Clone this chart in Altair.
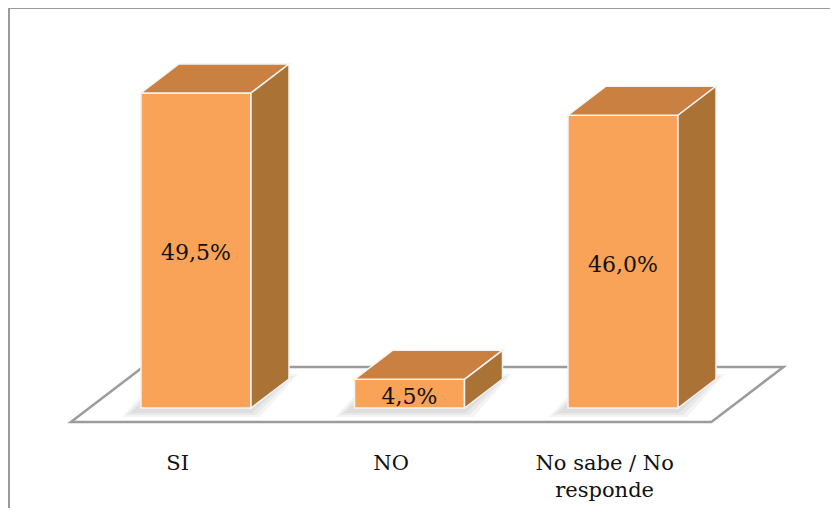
import altair as alt
import pandas as pd

# ---- data ----
categories = ["SI", "NO", "No sabe / No\nresponde"]
values = [49.5, 4.5, 46.0]
value_labels = ["49,5%", "4,5%", "46,0%"]

# ---- layout (pseudo-3D projection) ----
W, H = 822, 500
PX_X = 213.5          # px per category step
PX_Y = 6.364          # px per percentage point
X0_PX, Y0_PX = 188, 400   # position of category 0 / value 0 in the plot
BAR_W = 110 / PX_X
DX = 38 / PX_X        # x shift per unit depth
DY = 29 / PX_Y        # y shift per unit depth
FLOOR_FRONT, FLOOR_BACK = -0.483, 1.414
LABEL_Y = -9.8        # baseline of category labels (value units)

FRONT_C = "#F8A357"
TOP_C = "#C98041"
SIDE_C = "#AA7335"
EDGE_C = "#F4F4F4"
FONT = "DejaVu Serif"

xscale = alt.Scale(domain=[-X0_PX / PX_X, (W - X0_PX) / PX_X], nice=False, zero=False)
yscale = alt.Scale(domain=[(Y0_PX - H) / PX_Y, Y0_PX / PX_Y], nice=False, zero=False)

n = len(categories)
fronts = pd.DataFrame({
    "cat": categories,
    "i": list(range(n)),
    "v": values,
    "label": value_labels,
})
fronts["x0"] = fronts["i"] - BAR_W / 2
fronts["x1"] = fronts["i"] + BAR_W / 2
fronts["vm"] = fronts["v"] / 2
fronts["lx"] = fronts["i"] + FLOOR_FRONT * DX
fronts["ly"] = LABEL_Y

top_rows, side_rows, shadow_rows = [], [], []
for rec in fronts.to_dict("records"):
    c, v, x0, x1 = rec["cat"], rec["v"], rec["x0"], rec["x1"]
    top_rows.append({"cat": c, "y": v, "xa": x0, "xb": x1})
    top_rows.append({"cat": c, "y": v + DY, "xa": x0 + DX, "xb": x1 + DX})
    side_rows.append({"cat": c, "x": x1, "ya": 0.0, "yb": v})
    side_rows.append({"cat": c, "x": x1 + DX, "ya": DY, "yb": v + DY})
    for k, e in enumerate([14, 10, 6]):
        ex, ey = e / PX_X, e / PX_Y
        sx, sy = -5 / PX_X, -2 / PX_Y
        key = f"{c}-{k}"
        for d, extra in [(0, -ey * 0.5), (1, ey * 0.5)]:
            shadow_rows.append({
                "key": key,
                "y": d * DY + extra + sy,
                "xa": x0 + d * DX - ex + sx,
                "xb": x1 + d * DX + ex + sx,
            })
tops = pd.DataFrame(top_rows)
sides = pd.DataFrame(side_rows)
shadows = pd.DataFrame(shadow_rows)

floor = pd.DataFrame({
    "y": [FLOOR_FRONT * DY, FLOOR_BACK * DY],
    "xa": [-0.5 + FLOOR_FRONT * DX, -0.5 + FLOOR_BACK * DX],
    "xb": [n - 0.5 + FLOOR_FRONT * DX, n - 0.5 + FLOOR_BACK * DX],
})

floor_layer = alt.Chart(floor).mark_area(
    orient="horizontal", fill="white", stroke="#9C9C9C", strokeWidth=2.5
).encode(
    y=alt.Y("y:Q", scale=yscale, axis=None),
    x=alt.X("xa:Q", scale=xscale, axis=None),
    x2="xb:Q",
)

shadow_layer = alt.Chart(shadows).mark_area(
    orient="horizontal", fill="#000000", fillOpacity=0.045
).encode(
    y=alt.Y("y:Q", scale=yscale, axis=None),
    x=alt.X("xa:Q", scale=xscale, axis=None),
    x2="xb:Q",
    detail="key:N",
)

front_layer = alt.Chart(fronts).mark_rect(
    fill=FRONT_C, stroke=EDGE_C, strokeWidth=1.5
).encode(
    x=alt.X("x0:Q", scale=xscale, axis=None),
    x2="x1:Q",
    y=alt.Y("v:Q", scale=yscale, axis=None),
    y2=alt.datum(0),
)

top_layer = alt.Chart(tops).mark_area(
    orient="horizontal", fill=TOP_C, stroke=EDGE_C, strokeWidth=1.5
).encode(
    y=alt.Y("y:Q", scale=yscale, axis=None),
    x=alt.X("xa:Q", scale=xscale, axis=None),
    x2="xb:Q",
    detail="cat:N",
)

side_layer = alt.Chart(sides).mark_area(
    orient="vertical", fill=SIDE_C, stroke=EDGE_C, strokeWidth=1.5
).encode(
    x=alt.X("x:Q", scale=xscale, axis=None),
    y=alt.Y("ya:Q", scale=yscale, axis=None),
    y2="yb:Q",
    detail="cat:N",
)

value_text = alt.Chart(fronts).mark_text(
    font=FONT, fontSize=22, color="#111111", baseline="middle", dy=3
).encode(
    x=alt.X("i:Q", scale=xscale, axis=None),
    y=alt.Y("vm:Q", scale=yscale, axis=None),
    text="label:N",
)

cat_text = alt.Chart(fronts).mark_text(
    font=FONT, fontSize=21, color="#111111", baseline="alphabetic",
    lineBreak="\n", lineHeight=27
).encode(
    x=alt.X("lx:Q", scale=xscale, axis=None),
    y=alt.Y("ly:Q", scale=yscale, axis=None),
    text="cat:N",
)

# outer frame: only its left and top edges are inside the picture
frame_left = alt.Chart(fronts).mark_rule(color="#9A9A9A", strokeWidth=2.5).encode(
    x=alt.value(0.5), y=alt.value(-1), y2=alt.value(H)
)
frame_top = alt.Chart(fronts).mark_rule(color="#9A9A9A", strokeWidth=2.5).encode(
    x=alt.value(0), x2=alt.value(W), y=alt.value(-0.5)
)

chart = alt.layer(
    floor_layer, shadow_layer, front_layer, top_layer, side_layer,
    value_text, cat_text, frame_left, frame_top
).properties(
    width=W, height=H, autosize=alt.AutoSizeParams(type="none"), padding=0
).configure_view(
    stroke=None
)

chart.save("out.html", embed_options={"renderer": "svg", "actions": False})
